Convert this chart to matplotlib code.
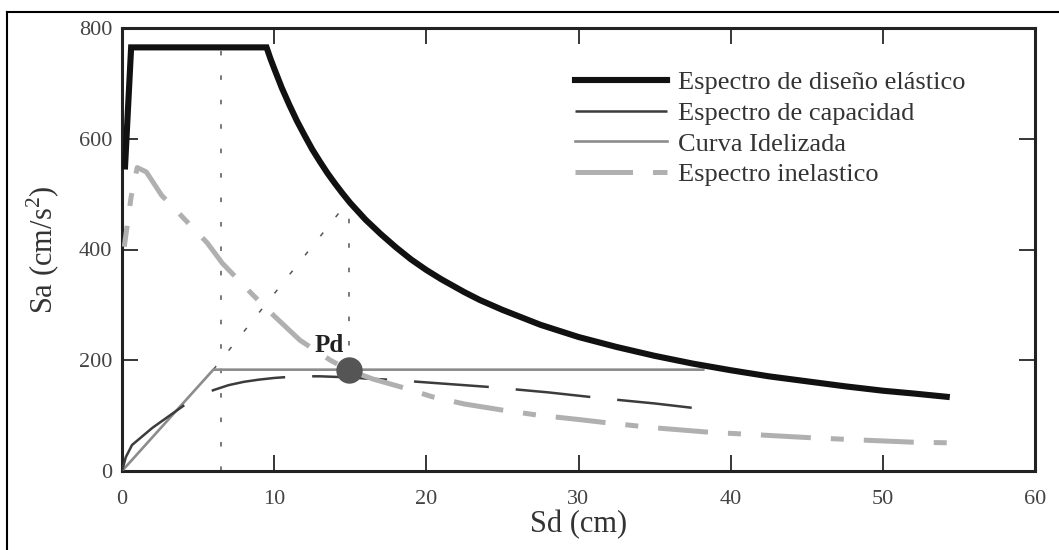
import matplotlib
matplotlib.use("Agg")
import numpy as np
import matplotlib.pyplot as plt
from matplotlib.lines import Line2D

# --- data (Sd in cm, Sa in cm/s^2) ---
sd_elastic = [0.2, 0.6, 9.5, 9.75, 10, 10.5, 11, 11.5, 12, 12.5, 13, 13.5, 14, 14.5, 15,
              16, 17, 18, 19, 20, 21, 22.5, 23.5, 25, 27.5, 30, 32.5, 35, 37.5, 40,
              42.5, 45, 47.5, 50, 52, 54.2]
sa_elastic = [550, 765, 765, 745, 727, 692, 661, 632, 606, 581, 559, 538, 519, 501, 484,
              454, 428, 404, 382, 363, 346, 323, 309, 291, 264, 242, 224, 208, 194, 182,
              171, 162, 153, 145, 140, 134]

sd_capacity = [0, 0.25, 0.66, 2, 4.1, 6.0, 7, 8, 9, 10, 11, 12, 13, 14, 15, 16,
               17.5, 20, 24, 28, 32, 35, 37.5]
sa_capacity = [0, 25, 47, 78, 119, 146, 155, 161, 165, 168, 170, 171, 171, 170, 169, 167,
               165, 160, 152, 142, 130, 122, 114]

sd_ideal = [0, 6.0, 38.2]
sa_ideal = [0, 183, 183]

sd_inelastic = [0.15, 0.6, 1.0, 1.6, 2.6, 4, 5.6, 6.6, 8.6, 10, 11.7, 13.7, 14.9, 16.5,
                18.3, 20.4, 22.5, 25, 27.3, 30, 31.9, 35, 38.6, 42, 45.3, 48.5, 52, 54.2]
sa_inelastic = [405, 495, 548, 540, 498, 458, 412, 375, 318, 280, 236, 200, 182, 166,
                152, 134, 121, 110, 101, 93, 87, 78, 70, 65, 60, 56, 52, 51]

# performance point
pd_sd = 14.9
pd_sa = 183

# construction lines
guide_v1_sd = [6.5, 6.5]
guide_v1_sa = [0, 775]
guide_v2_sd = [14.9, 14.9]
guide_v2_sa = [183, 488]
guide_diag_sd = [6.0, 14.9]
guide_diag_sa = [183, 488]

x_ticks = [0, 10, 20, 30, 40, 50, 60]
y_ticks = [0, 200, 400, 600, 800]

labels = ["Espectro de diseño elástico", "Espectro de capacidad",
          "Curva Idelizada", "Espectro inelastico"]

plt.rcParams['font.family'] = ['Liberation Serif', 'DejaVu Serif']
plt.rcParams['mathtext.fontset'] = 'custom'
plt.rcParams['mathtext.rm'] = 'Liberation Serif'

fig = plt.figure(figsize=(10.59, 5.5), dpi=100)
ax = fig.add_axes([122 / 1059, 1 - 471 / 550, 913 / 1059, 443 / 550])
ax.set_xlim(0, 60)
ax.set_ylim(0, 800)

dot_style = dict(color='#555555', lw=1.1, linestyle=(0, (3, 13)), zorder=2)
ax.plot(guide_v1_sd, guide_v1_sa, **dot_style)
ax.plot(guide_v2_sd, guide_v2_sa, **dot_style)
ax.plot(guide_diag_sd, guide_diag_sa, **dot_style)

l_ideal, = ax.plot(sd_ideal, sa_ideal, color='#8c8c8c', lw=1.9, zorder=3)

# long first dash along the initial branch, then regular long dashes
cap_dashes = (37.5, 12.4) + (30, 10.8) * 8
l_cap, = ax.plot(sd_capacity, sa_capacity, color='#3c3c3c', lw=1.8,
                 linestyle=(0, cap_dashes), zorder=4)

# dash-dot pattern phased so the curve ends on a short dash
inel_color = '#b0b0b0'
inel_lw = 3.6
inel_pat = (10, 4, 2.6, 4)
pts = ax.transData.transform(np.column_stack([sd_inelastic, sa_inelastic]))
path_len = np.sum(np.hypot(*np.diff(pts, axis=0).T)) * 72 / fig.dpi / inel_lw
inel_off = (10 + 4 + 2.6 - path_len) % sum(inel_pat)
ax.plot(sd_inelastic, sa_inelastic, color=inel_color, lw=inel_lw,
        linestyle=(inel_off, inel_pat), dash_capstyle='butt', zorder=5)
l_inel = Line2D([], [], color=inel_color, lw=inel_lw,
                linestyle=(0, (11.5, 4, 4, 4)), dash_capstyle='butt')

l_el, = ax.plot(sd_elastic, sa_elastic, color='#111111', lw=4.4,
                solid_joinstyle='miter', zorder=6)

ax.plot([pd_sd], [pd_sa], 'o', color='#555555', markersize=18, zorder=7)
ax.text(13.6, 226, "Pd", fontsize=18, fontweight='bold', color='#222222',
        ha='center', va='center', zorder=8)

ax.set_xticks(x_ticks)
ax.set_yticks(y_ticks)
ax.tick_params(direction='in', length=11.5, width=1.1, top=True, right=True,
               labelsize=16, labelcolor='#444444')
ax.tick_params(axis='x', pad=14)
ax.tick_params(axis='y', pad=7)
for s in ax.spines.values():
    s.set_linewidth(2.2)
    s.set_color('#222222')

ax.set_xlabel("Sd (cm)", fontsize=22, color='#333333')
ax.set_ylabel("Sa (cm/s$^2$)", fontsize=22, color='#333333')
ax.xaxis.set_label_coords(0.5, (471 - 525) / 443)
ax.xaxis.label.set_va('center')
ax.yaxis.set_label_coords((43 - 122) / 913, 0.5)
ax.yaxis.label.set_va('center')

leg = ax.legend([l_el, l_cap, l_ideal, l_inel], labels, loc='upper left',
                bbox_to_anchor=((575 - 122) / 913, (471 - 71) / 443),
                frameon=False, fontsize=19, handlelength=3.5,
                handletextpad=0.42, labelspacing=0.27, borderpad=0,
                borderaxespad=0)
for t in leg.get_texts():
    t.set_color('#333333')

# outer frame of the figure
fig.add_artist(Line2D([7 / 1059, 1], [1 - 12 / 550, 1 - 12 / 550],
                      transform=fig.transFigure, color='black', lw=1.5))
fig.add_artist(Line2D([7 / 1059, 7 / 1059], [0, 1 - 12 / 550],
                      transform=fig.transFigure, color='black', lw=1.5))

fig.savefig("out.png", dpi=100)
